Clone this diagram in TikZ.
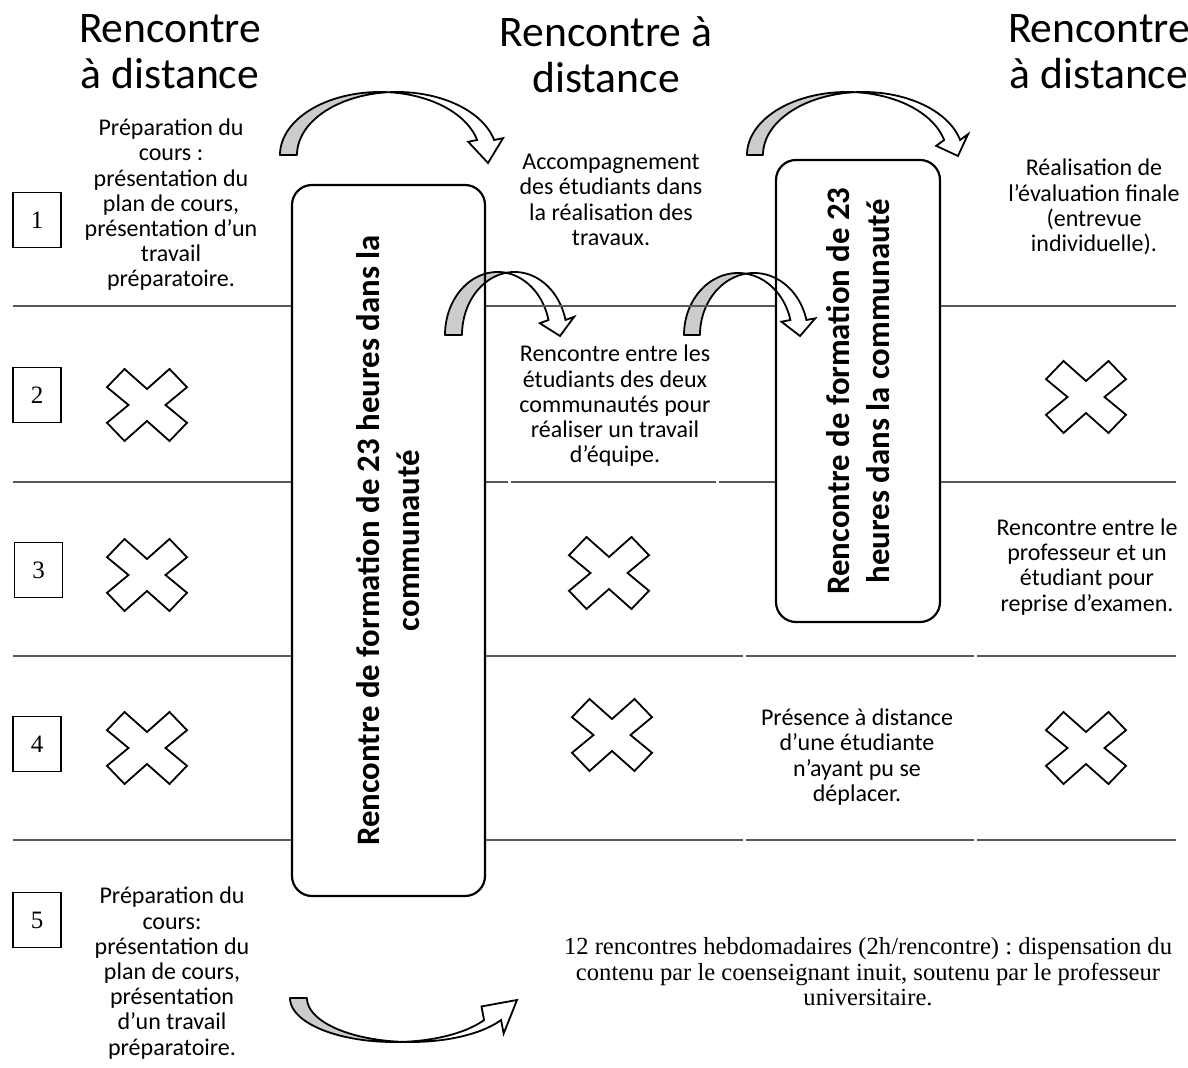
\documentclass[tikz,border=0pt]{standalone}
\usepackage{fontspec}
\setmainfont{Carlito}
\newfontfamily\timesf{Liberation Serif}
\frenchspacing
\newcommand{\curvarr}[9]{%
 \pgfmathsetmacro\arA{acos(#5/(2*#3))}%
 \pgfmathsetmacro\arB{180-\arA}%
 \pgfmathsetmacro\arE{asin(#6*(#2-#7)/#4)}%
 \pgfmathsetmacro\arXi{#1+#3*cos(\arE)}%
 \pgfmathsetmacro\arXo{#1+#5+#3*cos(\arE)}%
 \pgfmathsetmacro\arCx{(\arXi+\arXo)/2}%
 \pgfmathsetmacro\arHl{veclen(#8-\arCx,#9-#7)}%
 \pgfmathsetmacro\arUx{(#9-#7)/\arHl}%
 \pgfmathsetmacro\arUy{-(#8-\arCx)/\arHl}%
 \pgfmathsetmacro\arHw{#5/2+9}%
 \filldraw[arrback] plot[domain=180:\arA, samples=60, variable=\t] ({#1+#3*cos(\t)},{#2-#6*#4*sin(\t)})
   -- plot[domain=\arB:180, samples=60, variable=\t] ({#1+#5+#3*cos(\t)},{#2-#6*#4*sin(\t)}) -- cycle;
 \filldraw[arrfront] plot[domain=\arB:\arE, samples=60, variable=\t] ({#1+#5+#3*cos(\t)},{#2-#6*#4*sin(\t)})
   -- ({\arCx+#6*\arHw*\arUx},{#7+#6*\arHw*\arUy}) -- (#8,#9)
   -- ({\arCx-#6*\arHw*\arUx},{#7-#6*\arHw*\arUy})
   -- plot[domain=\arE:\arA, samples=60, variable=\t] ({#1+#3*cos(\t)},{#2-#6*#4*sin(\t)}) -- cycle;
}
\newcommand{\xcross}[2]{%
 \filldraw[xmark] (#1,#2) ++(-22.5,-36) -- ++(22.5,20) -- ++(22.5,-20) -- ++(17.5,18.2) -- ++(-21.5,17.8)
  -- ++(21.5,17.8) -- ++(-17.5,18.2) -- ++(-22.5,-20) -- ++(-22.5,20) -- ++(-17.5,-18.2) -- ++(21.5,-17.8)
  -- ++(-21.5,-17.8) -- cycle;
}
\tikzset{
 tline/.style={draw=black!65, line width=1pt},
 bigbox/.style={draw=black, line width=1.1pt, rounded corners=10pt, inner sep=0pt},
 numbox/.style={draw=black, line width=0.6pt, minimum width=24pt, minimum height=27.5pt, inner sep=0pt, font=\timesf\fontsize{12.5}{14}\selectfont},
 body/.style={align=center, inner sep=0pt, font=\fontsize{12}{12.6}\selectfont},
 tbody/.style={align=center, inner sep=0pt, font=\timesf\fontsize{12.3}{12.75}\selectfont},
 titletxt/.style={align=center, inner sep=0pt, font=\fontsize{21.8}{23}\selectfont},
 vtext/.style={align=center, inner sep=0pt, rotate=90, font=\bfseries\fontsize{16.4}{20}\selectfont},
 arrback/.style={fill=black!20, draw=black, line width=0.9pt, line join=round},
 arrfront/.style={fill=white, draw=black, line width=0.9pt, line join=miter},
 xmark/.style={fill=white, draw=black, line width=0.9pt},
}
\begin{document}
\begin{tikzpicture}[x=0.5pt, y=-0.5pt]
\useasboundingbox[fill=white] (0,0) rectangle (1188,1068);
% curved arrows
\curvarr{380}{155}{100}{63}{17}{1}{140}{488}{163}
\curvarr{847}{155}{100}{63}{16}{1}{140}{958}{156}
\curvarr{497.5}{335}{52.5}{63}{17}{1}{320}{560}{336}
\curvarr{738}{335}{54}{62}{16}{1}{320}{800}{336}
\curvarr{394}{998}{104}{44}{17}{-1}{1020}{517}{1000}
% table lines
\draw[tline] (13,306) -- (292,306) (485,306) -- (776,306) (940,306) -- (1176,306);
\draw[tline] (13,482) -- (292,482) (485,482) -- (508,482) (511,482) -- (716,482) (719,482) -- (776,482) (940,482) -- (1176,482);
\draw[tline] (13,656) -- (292,656) (485,656) -- (743,656) (746,656) -- (974,656) (977,656) -- (1176,656);
\draw[tline] (13,840) -- (292,840) (485,840) -- (743,840) (746,840) -- (974,840) (977,840) -- (1176,840);
% big boxes
\node[bigbox, minimum width=96.5pt, minimum height=355.5pt] (box1) at (388.5,540.5) {};
\node[bigbox, minimum width=82pt, minimum height=231pt] (box2) at (858,391) {};
\node[vtext] (v1) at (box1.center) {Rencontre de formation de 23 heures dans la\\communauté};
\node[vtext] (v2) at (box2.center) {Rencontre de formation de 23\\heures dans la communauté};
% crosses
\xcross{147}{405}
\xcross{147}{575}
\xcross{147}{748}
\xcross{609}{573}
\xcross{612}{735}
\xcross{1086}{397}
\xcross{1086}{748}
% number boxes
\node[numbox] (n1) at (37,220) {1};
\node[numbox] (n2) at (37,395) {2};
\node[numbox] (n3) at (38.5,570) {3};
\node[numbox] (n4) at (37,744) {4};
\node[numbox] (n5) at (37,920) {5};
% titles
\node[titletxt] (h1) at (170,52) {Rencontre\\à distance};
\node[titletxt] (h2) at (606,55) {Rencontre à\\distance};
\node[titletxt] (h3) at (1099,52) {Rencontre\\à distance};
% texts
\node[body] (t1) at (171,205) {Préparation du\\cours :\\présentation du\\plan de cours,\\présentation d’un\\travail\\préparatoire.};
\node[body] (t2) at (611,200) {Accompagnement\\des étudiants dans\\la réalisation des\\travaux.};
\node[body] (t3) at (1094,207) {Réalisation de\\l’évaluation finale\\(entrevue\\individuelle).};
\node[body] (t4) at (615,406) {Rencontre entre les\\étudiants des deux\\communautés pour\\réaliser un travail\\d’équipe.};
\node[body] (t5) at (1087,567) {Rencontre entre le\\professeur et un\\étudiant pour\\reprise d’examen.};
\node[body] (t6) at (857,757) {Présence à distance\\d’une étudiante\\n’ayant pu se\\déplacer.};
\node[body] (t7) at (172,973) {Préparation du\\cours:\\présentation du\\plan de cours,\\présentation\\d’un travail\\préparatoire.};
\node[tbody] (t8) at (868,972) {12 rencontres hebdomadaires (2h/rencontre) : dispensation du\\contenu par le coenseignant inuit, soutenu par le professeur\\universitaire.};
\end{tikzpicture}
\end{document}
